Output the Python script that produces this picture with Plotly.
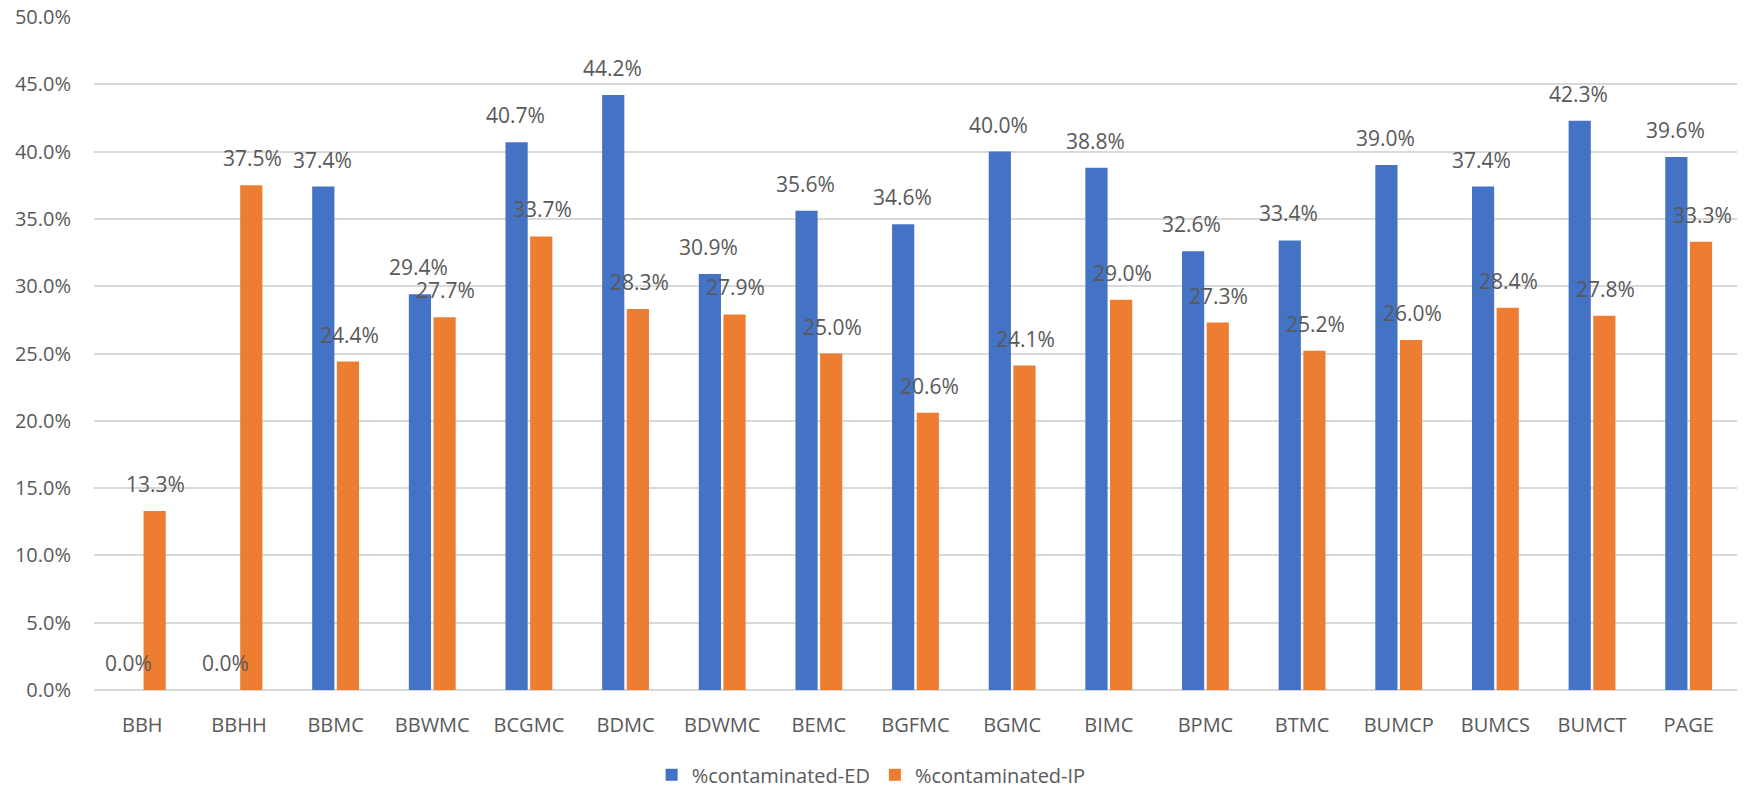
import plotly.graph_objects as go

categories = ["BBH", "BBHH", "BBMC", "BBWMC", "BCGMC", "BDMC", "BDWMC", "BEMC", "BGFMC",
              "BGMC", "BIMC", "BPMC", "BTMC", "BUMCP", "BUMCS", "BUMCT", "PAGE"]
ed_values = [0.0, 0.0, 37.4, 29.4, 40.7, 44.2, 30.9, 35.6, 34.6, 40.0, 38.8, 32.6, 33.4,
             39.0, 37.4, 42.3, 39.6]
ip_values = [13.3, 37.5, 24.4, 27.7, 33.7, 28.3, 27.9, 25.0, 20.6, 24.1, 29.0, 27.3, 25.2,
             26.0, 28.4, 27.8, 33.3]
y_ticks = [0, 5, 10, 15, 20, 25, 30, 35, 40, 45, 50]

BLUE = "#4472C4"
ORANGE = "#ED7D31"
TXT = "#595959"
FONT = "Open Sans"

fig = go.Figure()
fig.add_trace(go.Bar(x=categories, y=ed_values, name="%contaminated-ED",
                     marker=dict(color=BLUE, line=dict(width=0))))
fig.add_trace(go.Bar(x=categories, y=ip_values, name="%contaminated-IP",
                     marker=dict(color=ORANGE, line=dict(width=0))))

annotations = []
for series, shift in ((ed_values, -13.5), (ip_values, 13.5)):
    for c, v in zip(categories, series):
        annotations.append(dict(x=c, y=v, xref="x", yref="y", text=f"{v:.1f}%",
                                showarrow=False, yanchor="bottom", xanchor="center",
                                xshift=shift, yshift=11,
                                font=dict(family=FONT, size=21, color=TXT)))

fig.update_layout(
    width=1750, height=788,
    margin=dict(l=94, r=13, t=17, b=98, autoexpand=False),
    paper_bgcolor="white", plot_bgcolor="white",
    barmode="group", bargap=0.49, bargroupgap=0.1,
    font=dict(family=FONT, size=20, color=TXT),
    annotations=annotations,
    legend=dict(orientation="h", x=0.473, xanchor="center", y=-0.126, yanchor="middle",
                font=dict(family=FONT, size=20, color=TXT), itemwidth=30),
    showlegend=True,
)
fig.update_yaxes(range=[0, 50], tickvals=y_ticks,
                 ticktext=[f"{t:.1f}%" for t in y_ticks],
                 showgrid=True, gridcolor="#D9D9D9", gridwidth=2,
                 zeroline=True, zerolinecolor="#D9D9D9", zerolinewidth=2,
                 showline=False, ticks="", ticklabelstandoff=22,
                 tickfont=dict(family=FONT, size=20, color=TXT))
fig.update_xaxes(showgrid=False, showline=False, ticks="", ticklabelstandoff=21,
                 tickfont=dict(family=FONT, size=20, color=TXT))

fig.write_html("out.html")
